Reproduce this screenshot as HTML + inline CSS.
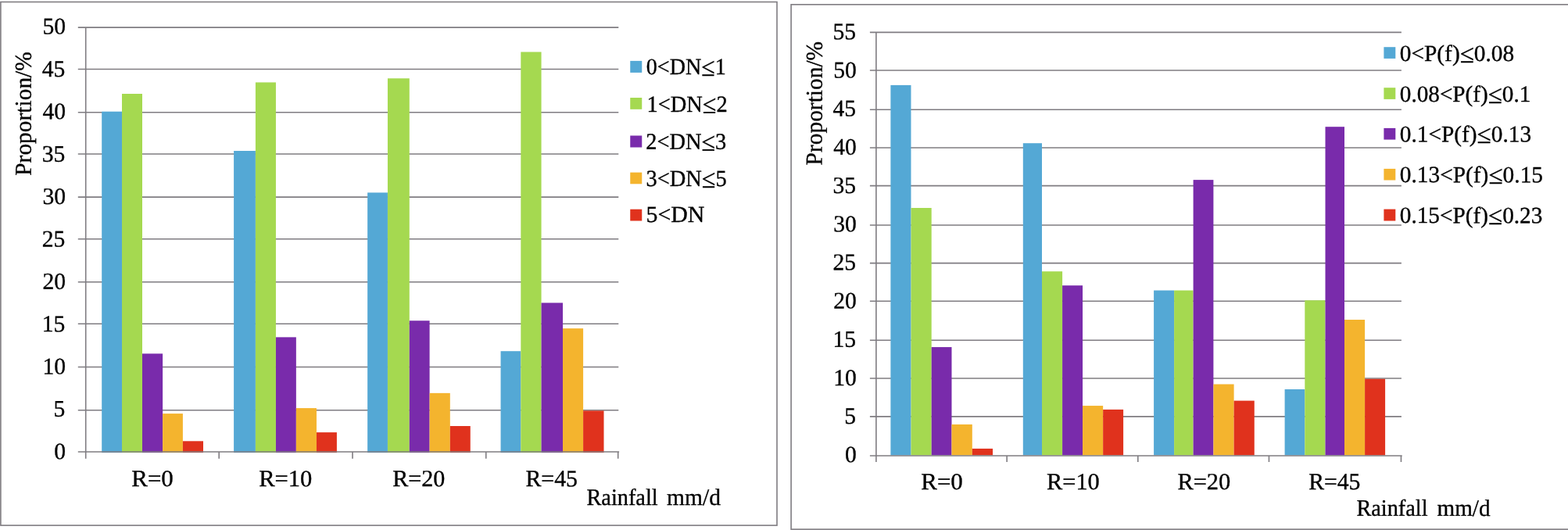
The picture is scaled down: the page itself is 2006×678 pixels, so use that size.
<!DOCTYPE html>
<html lang="en">
<head>
<meta charset="utf-8">
<title>Proportion by rainfall</title>
<style>
html,body{margin:0;padding:0;background:#fff;}
body{width:2006px;height:678px;overflow:hidden;}
svg{display:block;font-family:"Liberation Serif", "DejaVu Serif", serif;font-kerning:none;text-rendering:geometricPrecision;}
</style>
</head>
<body>
<svg width="2006" height="678" viewBox="0 0 2006 678">
<rect x="0" y="0" width="2006" height="678" fill="#ffffff"/>
<g stroke="#7f7c81" stroke-width="1.6" fill="#fff"><rect x="0.9" y="2.5" width="993.1" height="669.6"/><rect x="1012.1" y="5.8" width="1000" height="671.3"/></g>
<g id="chart-left">
<g stroke="#7f7c81" stroke-width="1.6" fill="none"><line x1="99.80" y1="35.10" x2="791.30" y2="35.10"/><line x1="99.80" y1="88.55" x2="791.30" y2="88.55"/><line x1="99.80" y1="143.70" x2="791.30" y2="143.70"/><line x1="99.80" y1="197.00" x2="791.30" y2="197.00"/><line x1="99.80" y1="252.15" x2="791.30" y2="252.15"/><line x1="99.80" y1="305.80" x2="791.30" y2="305.80"/><line x1="99.80" y1="360.80" x2="791.30" y2="360.80"/><line x1="99.80" y1="414.25" x2="791.30" y2="414.25"/><line x1="99.80" y1="469.45" x2="791.30" y2="469.45"/><line x1="99.80" y1="524.80" x2="791.30" y2="524.80"/></g><g><rect x="130.20" y="142.70" width="25.80" height="436.40" fill="#54A8D5"/><rect x="156.00" y="120.00" width="26.00" height="459.10" fill="#A5D950"/><rect x="182.00" y="452.40" width="26.10" height="126.70" fill="#792BAB"/><rect x="208.10" y="529.10" width="25.80" height="50.00" fill="#F4B42E"/><rect x="233.90" y="564.30" width="26.10" height="14.80" fill="#E0321D"/><rect x="299.10" y="193.00" width="27.80" height="386.10" fill="#54A8D5"/><rect x="326.90" y="105.40" width="26.05" height="473.70" fill="#A5D950"/><rect x="352.95" y="431.36" width="25.90" height="147.74" fill="#792BAB"/><rect x="378.85" y="522.10" width="26.11" height="57.00" fill="#F4B42E"/><rect x="404.96" y="553.10" width="25.94" height="26.00" fill="#E0321D"/><rect x="470.15" y="246.40" width="25.80" height="332.70" fill="#54A8D5"/><rect x="495.95" y="100.27" width="27.85" height="478.83" fill="#A5D950"/><rect x="523.80" y="410.24" width="25.80" height="168.86" fill="#792BAB"/><rect x="549.60" y="502.86" width="26.20" height="76.24" fill="#F4B42E"/><rect x="575.80" y="545.00" width="25.95" height="34.10" fill="#E0321D"/><rect x="640.55" y="449.20" width="25.75" height="129.90" fill="#54A8D5"/><rect x="666.30" y="66.46" width="26.25" height="512.64" fill="#A5D950"/><rect x="692.55" y="387.40" width="27.45" height="191.70" fill="#792BAB"/><rect x="720.00" y="420.15" width="26.10" height="158.95" fill="#F4B42E"/><rect x="746.10" y="525.40" width="26.40" height="53.70" fill="#E0321D"/></g><g stroke="#7f7c81" stroke-width="1.6" fill="none"><line x1="99.80" y1="578.00" x2="792.10" y2="578.00"/><line x1="109.70" y1="35.10" x2="109.70" y2="586.70"/><line x1="280.20" y1="578.00" x2="280.20" y2="586.70"/><line x1="451.00" y1="578.00" x2="451.00" y2="586.70"/><line x1="621.75" y1="578.00" x2="621.75" y2="586.70"/><line x1="790.70" y1="578.00" x2="790.70" y2="586.70"/></g><rect x="806.25" y="77.90" width="15.00" height="15.00" fill="#54A8D5"/><rect x="806.25" y="125.00" width="15.00" height="14.80" fill="#A5D950"/><rect x="806.25" y="173.50" width="15.00" height="15.00" fill="#792BAB"/><rect x="806.25" y="220.60" width="15.00" height="14.70" fill="#F4B42E"/><rect x="806.25" y="267.70" width="15.00" height="14.80" fill="#E0321D"/><g fill="#000" stroke="#000" stroke-width="0.35" stroke-linejoin="round"><text transform="translate(54.50 43.60) rotate(0.03) scale(0.9860 1)" font-size="30.0">50</text><text transform="translate(53.83 97.96) rotate(0.03) scale(0.9860 1)" font-size="30.0">45</text><text transform="translate(54.50 152.32) rotate(0.03) scale(0.9860 1)" font-size="30.0">40</text><text transform="translate(53.83 206.68) rotate(0.03) scale(0.9860 1)" font-size="30.0">35</text><text transform="translate(54.50 261.04) rotate(0.03) scale(0.9860 1)" font-size="30.0">30</text><text transform="translate(53.83 315.40) rotate(0.03) scale(0.9860 1)" font-size="30.0">25</text><text transform="translate(54.50 369.76) rotate(0.03) scale(0.9860 1)" font-size="30.0">20</text><text transform="translate(53.83 424.12) rotate(0.03) scale(0.9860 1)" font-size="30.0">15</text><text transform="translate(54.50 478.48) rotate(0.03) scale(0.9860 1)" font-size="30.0">10</text><text transform="translate(68.62 532.84) rotate(0.03) scale(0.9860 1)" font-size="30.0">5</text><text transform="translate(69.29 587.20) rotate(0.03) scale(0.9860 1)" font-size="30.0">0</text><text transform="translate(168.26 622.10) rotate(0.03) scale(1.0306 1)" font-size="30.0">R=0</text><text transform="translate(331.19 622.10) rotate(0.03) scale(1.0171 1)" font-size="30.0">R=10</text><text transform="translate(502.28 622.10) rotate(0.03) scale(1.0029 1)" font-size="30.0">R=20</text><text transform="translate(672.44 622.10) rotate(0.03) scale(0.9940 1)" font-size="30.0">R=45</text><text transform="translate(751.30 646.00) rotate(0.03)" font-size="30.0"><tspan x="-0.82" textLength="91.18" lengthAdjust="spacingAndGlyphs">Rainfall</tspan> <tspan x="101.78" textLength="68.88" lengthAdjust="spacingAndGlyphs">mm/d</tspan></text><text transform="translate(39.80 224.75) rotate(-89.97) scale(0.9808 1)" font-size="30.0">Proportion/%</text><text transform="translate(826.83 94.97) rotate(0.03) scale(0.9516 1)" font-size="29.5">0&lt;DN<tspan font-size="33.33" dy="1.9">≤</tspan><tspan dy="-1.9">1</tspan></text><text transform="translate(827.50 142.90) rotate(0.03) scale(0.9633 1)" font-size="29.5">1&lt;DN<tspan font-size="33.33" dy="1.9">≤</tspan><tspan dy="-1.9">2</tspan></text><text transform="translate(826.35 190.80) rotate(0.03) scale(0.9618 1)" font-size="29.5">2&lt;DN<tspan font-size="33.33" dy="1.9">≤</tspan><tspan dy="-1.9">3</tspan></text><text transform="translate(826.54 238.05) rotate(0.03) scale(0.9639 1)" font-size="29.5">3&lt;DN<tspan font-size="33.33" dy="1.9">≤</tspan><tspan dy="-1.9">5</tspan></text><text transform="translate(826.57 283.97) rotate(0.03) scale(1.0111 1)" font-size="29.5">5&lt;DN</text></g>
</g>
<g id="chart-right">
<g stroke="#7f7c81" stroke-width="1.6" fill="none"><line x1="1112.90" y1="41.40" x2="1792.90" y2="41.40"/><line x1="1112.90" y1="90.00" x2="1792.90" y2="90.00"/><line x1="1112.90" y1="140.20" x2="1792.90" y2="140.20"/><line x1="1112.90" y1="189.00" x2="1792.90" y2="189.00"/><line x1="1112.90" y1="237.60" x2="1792.90" y2="237.60"/><line x1="1112.90" y1="288.00" x2="1792.90" y2="288.00"/><line x1="1112.90" y1="336.60" x2="1792.90" y2="336.60"/><line x1="1112.90" y1="385.20" x2="1792.90" y2="385.20"/><line x1="1112.90" y1="435.30" x2="1792.90" y2="435.30"/><line x1="1112.90" y1="484.00" x2="1792.90" y2="484.00"/><line x1="1112.90" y1="532.90" x2="1792.90" y2="532.90"/></g><g><rect x="1139.40" y="108.90" width="26.10" height="473.50" fill="#54A8D5"/><rect x="1165.50" y="266.00" width="26.20" height="316.40" fill="#A5D950"/><rect x="1191.70" y="444.04" width="25.80" height="138.36" fill="#792BAB"/><rect x="1217.50" y="542.95" width="26.30" height="39.45" fill="#F4B42E"/><rect x="1243.80" y="573.90" width="26.26" height="8.50" fill="#E0321D"/><rect x="1308.80" y="183.20" width="24.20" height="399.20" fill="#54A8D5"/><rect x="1333.00" y="347.20" width="26.10" height="235.20" fill="#A5D950"/><rect x="1359.10" y="365.20" width="25.94" height="217.20" fill="#792BAB"/><rect x="1385.04" y="519.06" width="26.11" height="63.34" fill="#F4B42E"/><rect x="1411.15" y="523.90" width="25.95" height="58.50" fill="#E0321D"/><rect x="1476.10" y="371.50" width="26.00" height="210.90" fill="#54A8D5"/><rect x="1502.10" y="371.50" width="24.50" height="210.90" fill="#A5D950"/><rect x="1526.60" y="230.10" width="25.80" height="352.30" fill="#792BAB"/><rect x="1552.40" y="491.50" width="26.20" height="90.90" fill="#F4B42E"/><rect x="1578.60" y="512.60" width="26.15" height="69.80" fill="#E0321D"/><rect x="1643.60" y="498.00" width="25.70" height="84.40" fill="#54A8D5"/><rect x="1669.30" y="384.20" width="26.20" height="198.20" fill="#A5D950"/><rect x="1695.50" y="162.20" width="24.50" height="420.20" fill="#792BAB"/><rect x="1720.00" y="409.00" width="26.10" height="173.40" fill="#F4B42E"/><rect x="1746.10" y="484.75" width="26.00" height="97.65" fill="#E0321D"/></g><g stroke="#7f7c81" stroke-width="1.6" fill="none"><line x1="1112.90" y1="583.00" x2="1793.70" y2="583.00"/><line x1="1120.90" y1="41.40" x2="1120.90" y2="591.00"/><line x1="1288.15" y1="583.00" x2="1288.15" y2="591.00"/><line x1="1455.80" y1="583.00" x2="1455.80" y2="591.00"/><line x1="1623.45" y1="583.00" x2="1623.45" y2="591.00"/><line x1="1792.45" y1="583.00" x2="1792.45" y2="591.00"/></g><rect x="1770.40" y="60.20" width="14.90" height="14.70" fill="#54A8D5"/><rect x="1770.40" y="112.20" width="14.90" height="14.70" fill="#A5D950"/><rect x="1770.40" y="163.90" width="14.90" height="14.70" fill="#792BAB"/><rect x="1770.40" y="215.90" width="14.90" height="14.60" fill="#F4B42E"/><rect x="1770.40" y="267.60" width="14.90" height="14.90" fill="#E0321D"/><g fill="#000" stroke="#000" stroke-width="0.35" stroke-linejoin="round"><text transform="translate(1065.38 50.20) rotate(0.03) scale(0.9860 1)" font-size="30.0">55</text><text transform="translate(1066.25 99.39) rotate(0.03) scale(0.9860 1)" font-size="30.0">50</text><text transform="translate(1065.38 148.58) rotate(0.03) scale(0.9860 1)" font-size="30.0">45</text><text transform="translate(1066.25 197.77) rotate(0.03) scale(0.9860 1)" font-size="30.0">40</text><text transform="translate(1065.38 246.96) rotate(0.03) scale(0.9860 1)" font-size="30.0">35</text><text transform="translate(1066.25 296.15) rotate(0.03) scale(0.9860 1)" font-size="30.0">30</text><text transform="translate(1065.38 345.34) rotate(0.03) scale(0.9860 1)" font-size="30.0">25</text><text transform="translate(1066.25 394.53) rotate(0.03) scale(0.9860 1)" font-size="30.0">20</text><text transform="translate(1065.38 443.72) rotate(0.03) scale(0.9860 1)" font-size="30.0">15</text><text transform="translate(1066.25 492.91) rotate(0.03) scale(0.9860 1)" font-size="30.0">10</text><text transform="translate(1080.17 542.10) rotate(0.03) scale(0.9860 1)" font-size="30.0">5</text><text transform="translate(1081.04 591.29) rotate(0.03) scale(0.9860 1)" font-size="30.0">0</text><text transform="translate(1178.26 626.06) rotate(0.03) scale(1.0306 1)" font-size="30.0">R=0</text><text transform="translate(1339.11 626.06) rotate(0.03) scale(1.0108 1)" font-size="30.0">R=10</text><text transform="translate(1506.42 626.06) rotate(0.03) scale(1.0135 1)" font-size="30.0">R=20</text><text transform="translate(1674.14 626.06) rotate(0.03) scale(0.9904 1)" font-size="30.0">R=45</text><text transform="translate(1736.20 659.80) rotate(0.03)" font-size="30.0"><tspan x="-0.82" textLength="91.18" lengthAdjust="spacingAndGlyphs">Rainfall</tspan> <tspan x="102.24" textLength="68.12" lengthAdjust="spacingAndGlyphs">mm/d</tspan></text><text transform="translate(1051.60 211.45) rotate(-89.97) scale(0.9808 1)" font-size="30.0">Proportion/%</text><text transform="translate(1790.78 78.00) rotate(0.03) scale(0.9949 1)" font-size="29.5">0&lt;P(f)<tspan font-size="33.33" dy="1.9">≤</tspan><tspan dy="-1.9">0.08</tspan></text><text transform="translate(1790.79 130.00) rotate(0.03) scale(0.9897 1)" font-size="29.5">0.08&lt;P(f)<tspan font-size="33.33" dy="1.9">≤</tspan><tspan dy="-1.9">0.1</tspan></text><text transform="translate(1790.78 181.14) rotate(0.03) scale(0.9938 1)" font-size="29.5">0.1&lt;P(f)<tspan font-size="33.33" dy="1.9">≤</tspan><tspan dy="-1.9">0.13</tspan></text><text transform="translate(1790.78 233.10) rotate(0.03) scale(0.9954 1)" font-size="29.5">0.13&lt;P(f)<tspan font-size="33.33" dy="1.9">≤</tspan><tspan dy="-1.9">0.15</tspan></text><text transform="translate(1790.79 285.10) rotate(0.03) scale(0.9918 1)" font-size="29.5">0.15&lt;P(f)<tspan font-size="33.33" dy="1.9">≤</tspan><tspan dy="-1.9">0.23</tspan></text></g>
</g>
</svg>
</body>
</html>
